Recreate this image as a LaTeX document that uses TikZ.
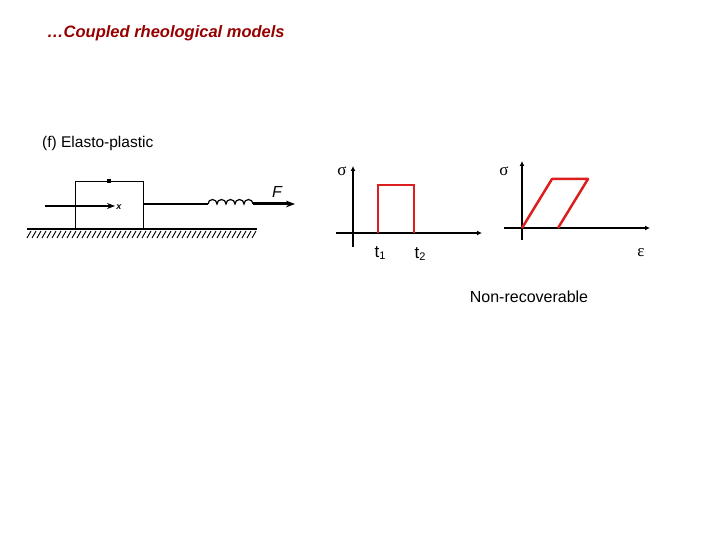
\documentclass[tikz,border=0pt]{standalone}
\usepackage{fontspec}
\setmainfont{Liberation Sans}
\newfontfamily\symf{Liberation Serif}
\usetikzlibrary{decorations.pathmorphing,arrows.meta}
\newcommand{\mysub}[1]{\raisebox{-0.3ex}{\fontsize{11}{13}\selectfont #1}}
\begin{document}
\begin{tikzpicture}[x=1pt,y=-1pt,
  ax/.style={line width=1.8pt,-{Latex[length=5pt,width=5pt]}},
  curve/.style={draw={rgb,255:red,220;green,30;blue,30},line width=2.5pt},
  lbl/.style={font=\fontsize{17}{19}\selectfont}]
\useasboundingbox (0,0) rectangle (720,540);
\node[font=\fontsize{16.5}{19}\selectfont\bfseries\itshape,text={rgb,255:red,150;green,0;blue,0},anchor=west,inner sep=0pt] (title) at (47,33) {…Coupled rheological models};
\node[font=\fontsize{15.5}{18}\selectfont,anchor=west,inner sep=0pt] (lab) at (42,143) {(f) Elasto-plastic};
% mechanical model
\draw[line width=1.5pt] (27,229) -- (257,229);
\foreach \i in {0,...,45} \draw[line width=0.9pt] (31+5*\i,231) -- (27+5*\i,238);
\node[draw,line width=1.3pt,minimum width=68pt,minimum height=47pt,inner sep=0pt,anchor=south west] (blk) at (75,229) {};
\fill (107,179) rectangle (111,183);
\coordinate (xs) at (45,206); \coordinate (xe) at (115,206);
\draw[line width=1.3pt,-{Stealth[length=8pt]}] (xs) -- (xe);
\node[font=\bfseries\itshape\small] (xl) at (119,207) {x};
\coordinate (r0) at (143,204); \coordinate (r1) at (208,204); \coordinate (r2) at (253,204); \coordinate (r3) at (295,204);
\draw[line width=1.2pt] (r0) -- (r1);
\draw[line width=1.2pt] (r1) \foreach \k in {0,...,4}{ arc[start angle=180,end angle=360,radius=4.5] };
\draw[line width=3pt,-{Stealth[length=9pt]}] (r2) -- (r3);
\node[font=\itshape\fontsize{16}{19}\selectfont] (F) at (277,192) {F};
% left graph
\coordinate (la0) at (353,247); \coordinate (la1) at (353,166);
\coordinate (lh0) at (336,233); \coordinate (lh1) at (482,233);
\draw[ax] (la0) -- (la1);
\draw[ax] (lh0) -- (lh1);
\draw[curve] (378,233) -- (378,185) -- (414,185) -- (414,233);
\node[lbl] (s1) at (342,171) {\symf σ};
\node[lbl] (t1) at (380,253) {t\mysub{1}};
\node[lbl] (t2) at (420,254) {t\mysub{2}};
% right graph
\coordinate (ra0) at (522,240); \coordinate (ra1) at (522,161);
\coordinate (rh0) at (504,228); \coordinate (rh1) at (650,228);
\draw[ax] (ra0) -- (ra1);
\draw[ax] (rh0) -- (rh1);
\draw[curve,line join=round] (522,228) -- (552,179) -- (588,179) -- (558,228);
\node[lbl] (s2) at (504,171) {\symf σ};
\node[lbl] (eps) at (641,253) {\symf ε};
\node[font=\fontsize{16}{19}\selectfont] (nr) at (529,297) {Non-recoverable};
\end{tikzpicture}
\end{document}
